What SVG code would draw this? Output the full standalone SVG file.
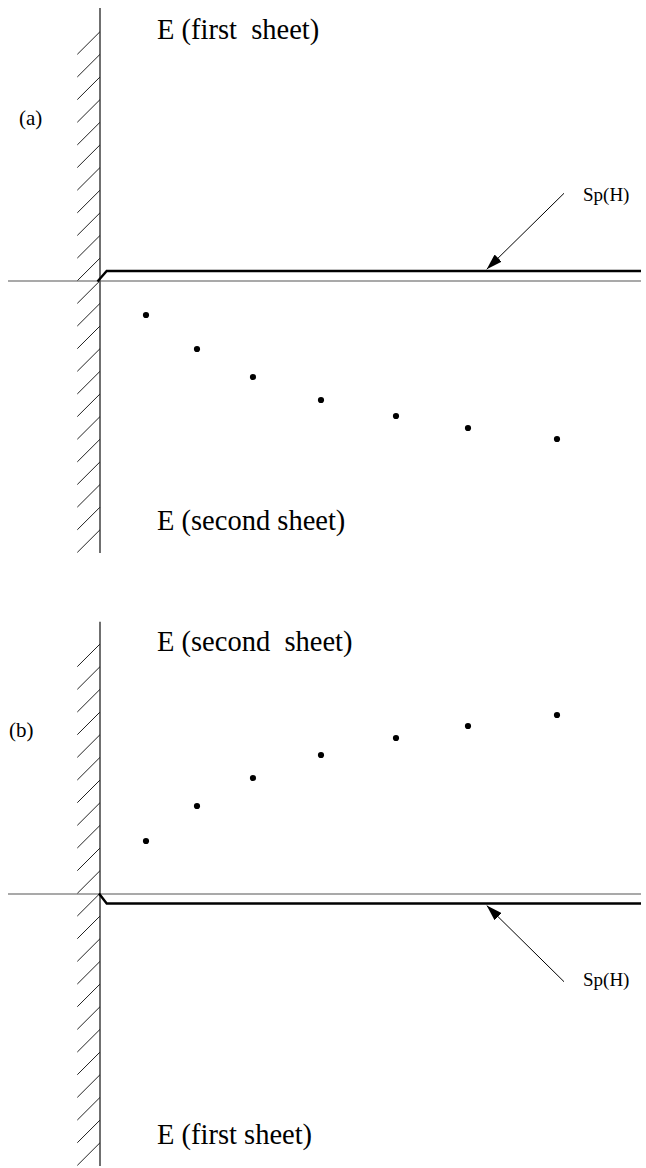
<svg xmlns="http://www.w3.org/2000/svg" width="646" height="1168" viewBox="0 0 646 1168">
<style>
.wall{stroke:#222;stroke-width:1.3;fill:none}
.hatch{stroke:#222;stroke-width:1;fill:none}
.axis{stroke:#555;stroke-width:1.1;fill:none}
.sp{stroke:#000;stroke-width:2.4;fill:none;stroke-linejoin:miter}
.arrow{stroke:#000;stroke-width:1;fill:none}
.dot{fill:#000}
.lbl{font-family:"Liberation Serif","Times New Roman",serif;font-size:28.5px;fill:#000;white-space:pre}
.sm{font-family:"Liberation Serif","Times New Roman",serif;font-size:19px;fill:#000}
.pl{font-family:"Liberation Serif","Times New Roman",serif;font-size:21px;fill:#000}
</style>
<defs>
<marker id="ah" viewBox="0 0 16 10" refX="16" refY="5" markerWidth="16" markerHeight="10" markerUnits="userSpaceOnUse" orient="auto">
<path d="M0,0 L16,5 L0,10 Z" fill="#000"/>
</marker>
</defs>
<g id="panel-a">
<g id="a-wall">
<line class="wall" x1="100" y1="8" x2="100" y2="553"/>
<path class="hatch" d="M100,31.7 l-22.7,22.64 m22.7,0 l-22.7,22.64 m22.7,0 l-22.7,22.64 m22.7,0 l-22.7,22.64 m22.7,0 l-22.7,22.64 m22.7,0 l-22.7,22.64 m22.7,0 l-22.7,22.64 m22.7,0 l-22.7,22.64 m22.7,0 l-22.7,22.64 m22.7,0 l-22.7,22.64 m22.7,0 l-22.7,22.64 m22.7,0 l-22.7,22.64 m22.7,0 l-22.7,22.64 m22.7,0 l-22.7,22.64 m22.7,0 l-22.7,22.64 m22.7,0 l-22.7,22.64 m22.7,0 l-22.7,22.64 m22.7,0 l-22.7,22.64 m22.7,0 l-22.7,22.64 m22.7,0 l-22.7,22.64 m22.7,0 l-22.7,22.64 m22.7,0 l-22.7,22.64 m22.7,0 l-22.7,22.64"/>
</g>
<line id="a-axis" class="axis" x1="8" y1="281" x2="641" y2="281"/>
<path id="a-sp" class="sp" d="M97.5,281.5 L106.7,271 L641,271"/>
<g id="a-dots">
<circle class="dot" cx="146" cy="315" r="3.1"/>
<circle class="dot" cx="197" cy="349" r="3.1"/>
<circle class="dot" cx="253" cy="377" r="3.1"/>
<circle class="dot" cx="321" cy="400" r="3.1"/>
<circle class="dot" cx="396" cy="416" r="3.1"/>
<circle class="dot" cx="468" cy="428" r="3.1"/>
<circle class="dot" cx="557" cy="439" r="3.1"/>
</g>
<text id="a-label" class="pl" x="19" y="125">(a)</text>
<text id="a-top" class="lbl" x="157" y="38.5">E (first  sheet)</text>
<text id="a-bottom" class="lbl" x="157" y="530">E (second sheet)</text>
<text id="a-sp-label" class="sm" x="583" y="201">Sp(H)</text>
</g>
<g id="panel-b">
<g id="b-wall">
<line class="wall" x1="100" y1="621.7" x2="100" y2="1166"/>
<path class="hatch" d="M100,644 l-22.7,22.67 m22.7,0 l-22.7,22.67 m22.7,0 l-22.7,22.67 m22.7,0 l-22.7,22.67 m22.7,0 l-22.7,22.67 m22.7,0 l-22.7,22.67 m22.7,0 l-22.7,22.67 m22.7,0 l-22.7,22.67 m22.7,0 l-22.7,22.67 m22.7,0 l-22.7,22.67 m22.7,0 l-22.7,22.67 m22.7,0 l-22.7,22.67 m22.7,0 l-22.7,22.67 m22.7,0 l-22.7,22.67 m22.7,0 l-22.7,22.67 m22.7,0 l-22.7,22.67 m22.7,0 l-22.7,22.67 m22.7,0 l-22.7,22.67 m22.7,0 l-22.7,22.67 m22.7,0 l-22.7,22.67 m22.7,0 l-22.7,22.67 m22.7,0 l-22.7,22.67 m22.7,0 l-22.7,22.67"/>
</g>
<line id="b-axis" class="axis" x1="8" y1="894" x2="641" y2="894"/>
<path id="b-sp" class="sp" d="M99,893.5 L106.7,903.5 L641,903.5"/>
<g id="b-dots">
<circle class="dot" cx="146" cy="841" r="3.1"/>
<circle class="dot" cx="197" cy="806" r="3.1"/>
<circle class="dot" cx="253" cy="778" r="3.1"/>
<circle class="dot" cx="321" cy="755" r="3.1"/>
<circle class="dot" cx="396" cy="738" r="3.1"/>
<circle class="dot" cx="468" cy="726" r="3.1"/>
<circle class="dot" cx="557" cy="715" r="3.1"/>
</g>
<text id="b-label" class="pl" x="9" y="737">(b)</text>
<text id="b-top" class="lbl" x="157" y="650.5">E (second  sheet)</text>
<text id="b-bottom" class="lbl" x="157" y="1144">E (first sheet)</text>
<text id="b-sp-label" class="sm" x="583" y="986">Sp(H)</text>
</g>
<g id="connectors">
<line class="arrow" x1="564" y1="193.3" x2="486.7" y2="269.3" marker-end="url(#ah)"/>
<line class="arrow" x1="564" y1="981.7" x2="486.7" y2="905.5" marker-end="url(#ah)"/>
</g>
</svg>
